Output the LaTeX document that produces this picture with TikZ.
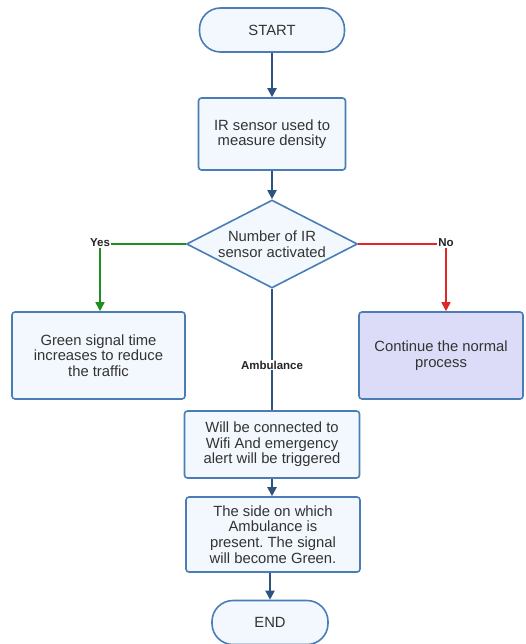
\documentclass[tikz,border=0pt]{standalone}
\usepackage{fontspec}
\setmainfont{Liberation Sans}
\usetikzlibrary{shapes.geometric,arrows.meta}
\definecolor{bord}{HTML}{4A7DB5}
\definecolor{fillb}{HTML}{F2F8FD}
\definecolor{arr}{HTML}{2E5380}
\definecolor{lav}{HTML}{DCDCF8}
\definecolor{grn}{HTML}{1F8F1F}
\definecolor{rd}{HTML}{E02626}
\frenchspacing
\tikzset{
  every node/.style={font=\fontsize{14.8}{15.6}\selectfont, text=black!80},
  procbox/.style={draw=bord, fill=fillb, line width=1.6pt, rounded corners=3pt, align=center, inner sep=0pt},
  termbox/.style={draw=bord, fill=fillb, line width=1.6pt, rounded corners=21pt, align=center, inner sep=0pt},
  flow/.style={draw=arr, line width=2pt, -{Triangle[length=9pt,width=9pt]}},
  lbl/.style={font=\fontsize{11.5}{13}\selectfont\bfseries, text=black!85, inner sep=1pt, fill=white}
}
\begin{document}
\begin{tikzpicture}[x=1pt,y=-1pt]
\useasboundingbox (0,0) rectangle (525,644);
\node[termbox, minimum width=145pt, minimum height=44pt] (start) at (272,30) {START};
\node[procbox, minimum width=147pt, minimum height=72pt] (ir) at (272,134) {IR sensor used to\\measure density};
\node[draw=bord, fill=fillb, line width=1.6pt, diamond, aspect=1.95, minimum width=171pt, minimum height=88pt, inner sep=0pt, align=center] (dec) at (272,244) {Number of IR\\sensor activated};
\node[procbox, minimum width=173pt, minimum height=87pt] (green) at (98.5,355.5) {Green signal time\\increases to reduce\\the traffic};
\node[procbox, fill=lav, minimum width=164pt, minimum height=87pt] (normal) at (441,355.5) {Continue the normal\\process};
\node[procbox, minimum width=175pt, minimum height=67pt] (wifi) at (272,444.5) {Will be connected to\\Wifi And emergency\\alert will be triggered};
\node[procbox, minimum width=174pt, minimum height=75pt] (side) at (273,534.5) {The side on which\\Ambulance is\\present. The signal\\will become Green.};
\node[termbox, minimum width=116pt, minimum height=44pt] (end) at (270,622.5) {END};
\node[lbl] (yes) at (100,243) {Yes};
\node[lbl] (no) at (446,243) {No};
\node[lbl] (amb) at (272,365) {Ambulance};
\draw[flow] (start) -- (ir);
\draw[flow] (ir) -- (dec);
\draw[draw=grn, line width=1.6pt] (dec.west) -- (dec.west -| yes.east);
\draw[draw=grn, line width=1.6pt, -{Triangle[length=9pt,width=9pt]}] (yes.south) -- (green.north -| yes.south);
\draw[draw=rd, line width=1.6pt] (dec.east) -- (dec.east -| no.west);
\draw[draw=rd, line width=1.6pt, -{Triangle[length=9pt,width=9pt]}] (no.south) -- (normal.north -| no.south);
\draw[draw=arr, line width=2pt] (dec.south) -- (amb.north);
\draw[draw=arr, line width=2pt] (amb.south) -- (wifi.north);
\draw[flow] (wifi) -- (side.north -| wifi.south);
\draw[flow] (side.south -| end.north) -- (end);
\end{tikzpicture}
\end{document}
